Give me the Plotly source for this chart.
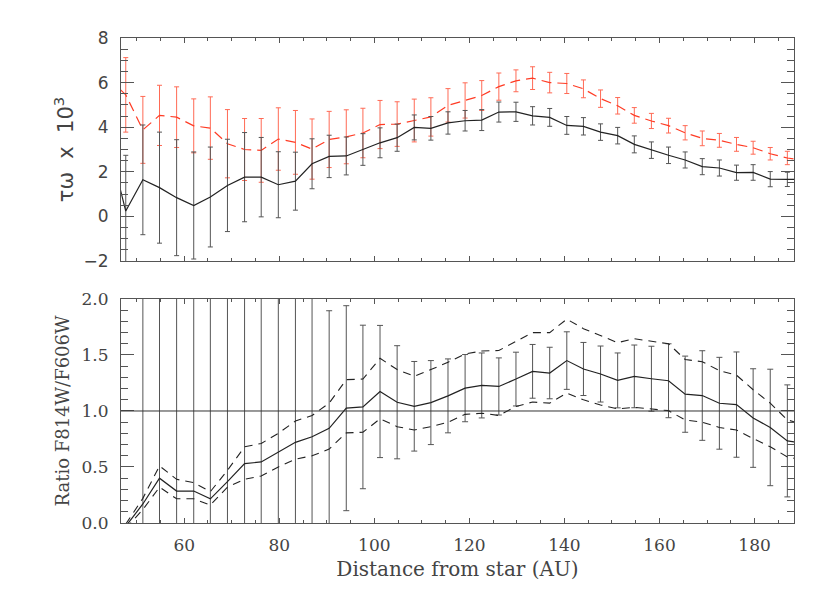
import plotly.graph_objects as go

# --- DATOS ---
distance_au = [44.1, 47.7, 51.3, 54.8, 58.4, 62.0, 65.5, 69.1, 72.7, 76.2,
               79.8, 83.4, 86.9, 90.5, 94.1, 97.6, 101.2, 104.8, 108.4, 111.9,
               115.5, 119.1, 122.6, 126.2, 129.8, 133.3, 136.9, 140.5, 144.0, 147.6,
               151.2, 154.7, 158.3, 161.9, 165.4, 169.0, 172.6, 176.2, 179.7, 183.3,
               186.9, 190.4]

# panel superior: tau*omega x 10^3
tau_black = [3.3, 0.24, 1.64, 1.29, 0.84, 0.49, 0.87, 1.39, 1.76, 1.76,
             1.42, 1.58, 2.36, 2.69, 2.71, 3.0, 3.3, 3.53, 3.99, 3.95,
             4.19, 4.29, 4.32, 4.68, 4.69, 4.51, 4.44, 4.08, 4.04, 3.78,
             3.62, 3.23, 2.97, 2.74, 2.53, 2.23, 2.17, 1.96, 1.97, 1.67,
             1.66, 1.66]
tau_black_err = [2.5, 2.5, 2.46, 2.49, 2.6, 2.4, 2.24, 2.07, 2.0, 1.78,
                 1.48, 1.3, 1.12, 0.95, 0.85, 0.71, 0.67, 0.61, 0.56, 0.53,
                 0.5, 0.46, 0.47, 0.45, 0.43, 0.41, 0.4, 0.4, 0.39, 0.37,
                 0.37, 0.38, 0.37, 0.37, 0.36, 0.36, 0.36, 0.34, 0.35, 0.34,
                 0.32, 0.32]
tau_red = [6.2, 5.45, 3.88, 4.53, 4.45, 4.06, 3.96, 3.26, 3.0, 2.96,
           3.47, 3.32, 3.02, 3.45, 3.57, 3.74, 4.12, 4.14, 4.3, 4.46,
           4.98, 5.2, 5.42, 5.82, 6.08, 6.2, 6.0, 5.96, 5.72, 5.28,
           4.96, 4.53, 4.28, 4.07, 3.75, 3.5, 3.41, 3.23, 3.08, 2.81,
           2.62, 2.52]
tau_red_err = [1.7, 1.67, 1.5, 1.35, 1.36, 1.21, 1.4, 1.53, 1.39, 1.43,
               1.4, 1.43, 1.35, 1.26, 1.21, 1.11, 1.08, 1.0, 0.96, 0.86,
               0.75, 0.79, 0.67, 0.61, 0.49, 0.51, 0.46, 0.45, 0.4, 0.39,
               0.37, 0.35, 0.34, 0.33, 0.32, 0.33, 0.31, 0.31, 0.29, 0.28,
               0.3, 0.3]

# panel inferior: cociente F814W/F606W
ratio = [None, -0.03, 0.17, 0.40, 0.285, 0.285, 0.216, 0.37, 0.53, 0.545,
         0.63, 0.72, 0.77, 0.845, 1.025, 1.036, 1.174, 1.078, 1.042, 1.075,
         1.135, 1.204, 1.228, 1.219, 1.285, 1.354, 1.339, 1.45, 1.375, 1.33,
         1.273, 1.309, 1.288, 1.27, 1.15, 1.138, 1.069, 1.057, 0.937, 0.853,
         0.733, 0.71]
ratio_err = [0, 0, 3.0, 3.0, 3.0, 3.0, 3.0, 3.0, 3.0, 3.0,
             3.0, 3.0, 3.0, 1.05, 0.915, 0.73, 0.59, 0.505, 0.4, 0.375,
             0.33, 0.30, 0.29, 0.255, 0.24, 0.24, 0.23, 0.257, 0.237, 0.25,
             0.245, 0.28, 0.29, 0.33, 0.34, 0.40, 0.41, 0.47, 0.44, 0.52,
             0.5, 0.5]
ratio_upper = [None, -0.01, 0.22, 0.51, 0.39, 0.36, 0.28, 0.47, 0.68, 0.71,
               0.80, 0.91, 0.96, 1.07, 1.28, 1.285, 1.47, 1.37, 1.31, 1.37,
               1.435, 1.51, 1.535, 1.54, 1.625, 1.70, 1.70, 1.82, 1.735, 1.67,
               1.61, 1.645, 1.625, 1.60, 1.46, 1.44, 1.36, 1.32, 1.19, 1.07,
               0.92, 0.88]
ratio_lower = [None, -0.05, 0.12, 0.32, 0.216, 0.216, 0.16, 0.32, 0.39, 0.42,
               0.50, 0.57, 0.60, 0.66, 0.805, 0.81, 0.93, 0.86, 0.83, 0.86,
               0.90, 0.97, 0.98, 0.96, 1.04, 1.08, 1.07, 1.16, 1.10, 1.054,
               1.018, 1.033, 1.018, 1.003, 0.92, 0.90, 0.853, 0.83, 0.754, 0.68,
               0.59, 0.56]
ratio_ref = 1.0

x_ticks = [60, 80, 100, 120, 140, 160, 180]

AXIS_COLOR = "#555555"
TEXT_COLOR = "#444444"
SANS = "DejaVu Sans"
SERIF = "DejaVu Serif"


def _eje(**kw):
    """Estilo comun de ejes tipo IDL: caja cerrada y ticks hacia dentro."""
    base = dict(showline=True, linecolor=AXIS_COLOR, linewidth=1, mirror="allticks",
                ticks="inside", tickcolor=AXIS_COLOR, showgrid=False, zeroline=False,
                automargin=False)
    base.update(kw)
    return base


fig = go.Figure()

# --- panel superior ---
fig.add_trace(go.Scatter(
    x=distance_au, y=tau_red, mode="lines", xaxis="x", yaxis="y",
    line=dict(color="#ff3b24", width=1.2, dash="10px,6px"),
    error_y=dict(type="data", array=tau_red_err, color="#ff6a55", thickness=1, width=2.5),
    showlegend=False))
fig.add_trace(go.Scatter(
    x=distance_au, y=tau_black, mode="lines", xaxis="x", yaxis="y",
    line=dict(color="#222222", width=1.2),
    error_y=dict(type="data", array=tau_black_err, color="#555555", thickness=1, width=2.5),
    showlegend=False))

# --- panel inferior ---
fig.add_trace(go.Scatter(
    x=distance_au, y=ratio, mode="lines", xaxis="x2", yaxis="y2",
    line=dict(color="#222222", width=1.2),
    error_y=dict(type="data", array=ratio_err, color="#555555", thickness=1, width=3),
    showlegend=False))
for serie in (ratio_upper, ratio_lower):
    fig.add_trace(go.Scatter(
        x=distance_au, y=serie, mode="lines", xaxis="x2", yaxis="y2",
        line=dict(color="#222222", width=1.1, dash="8px,6px"),
        showlegend=False))

# linea de referencia en cociente = 1
fig.add_shape(type="line", xref="x2 domain", yref="y2", x0=0, x1=1,
              y0=ratio_ref, y1=ratio_ref, line=dict(color="#333333", width=1))

# la pagina html tiene 8px de margen en el body: se compensa en los margenes
fig.update_layout(
    width=830, height=600,
    margin=dict(l=113, r=44, t=30, b=85),
    plot_bgcolor="white", paper_bgcolor="white",
    font=dict(family=SERIF, color=TEXT_COLOR, size=17),
    xaxis=_eje(domain=[0, 1], anchor="y", range=[46.7, 188.3], tickvals=x_ticks,
               showticklabels=False, ticklen=5,
               minor=dict(dtick=5, ticklen=3, ticks="inside", tickcolor=AXIS_COLOR)),
    yaxis=_eje(domain=[0.5402, 1], anchor="x", range=[-2, 8], dtick=2, ticklen=13,
               tickfont=dict(family=SANS, size=17), ticklabelstandoff=8,
               minor=dict(dtick=0.5, ticklen=7, ticks="inside", tickcolor=AXIS_COLOR),
               title=dict(text="τω\u00a0 x\u00a0 10<sup>3</sup>",
                          font=dict(family=SANS, size=21), standoff=4)),
    xaxis2=_eje(domain=[0, 1], anchor="y2", range=[46.7, 188.3], tickvals=x_ticks,
                ticklen=5, ticklabelstandoff=7,
                minor=dict(dtick=5, ticklen=3, ticks="inside", tickcolor=AXIS_COLOR),
                title=dict(text="Distance from star (AU)", font=dict(size=20), standoff=7)),
    yaxis2=_eje(domain=[0, 0.4619], anchor="x2", range=[0, 2.0], dtick=0.5,
                tickformat=".1f", ticklen=13, ticklabelstandoff=8,
                minor=dict(dtick=0.1, ticklen=7, ticks="inside", tickcolor=AXIS_COLOR),
                title=dict(text="Ratio F814W/F606W", font=dict(size=18), standoff=7)),
)

fig.write_html("out.html")
